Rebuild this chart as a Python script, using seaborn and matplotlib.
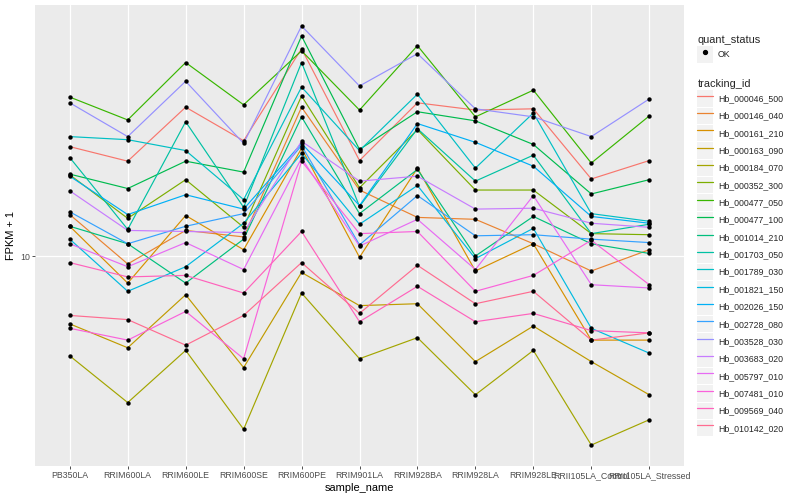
import numpy as np
import pandas as pd
import matplotlib
matplotlib.use('Agg')
import matplotlib.pyplot as plt
import seaborn as sns
from matplotlib.lines import Line2D
from matplotlib.patches import Rectangle
from matplotlib.legend_handler import HandlerTuple
from matplotlib.ticker import NullLocator

samples = ['PB350LA', 'RRIM600LA', 'RRIM600LE', 'RRIM600SE', 'RRIM600PE', 'RRIM901LA',
           'RRIM928BA', 'RRIM928LA', 'RRIM928LE', 'RRII105LA_Control', 'RRII105LA_Stressed']

tracking_ids = ['Hb_000046_500', 'Hb_000146_040', 'Hb_000161_210', 'Hb_000163_090', 'Hb_000184_070',
                'Hb_000352_300', 'Hb_000477_050', 'Hb_000477_100', 'Hb_001014_210', 'Hb_001703_050',
                'Hb_001789_030', 'Hb_001821_150', 'Hb_002026_150', 'Hb_002728_080', 'Hb_003528_030',
                'Hb_003683_020', 'Hb_005797_010', 'Hb_007481_010', 'Hb_009569_040', 'Hb_010142_020']

# FPKM + 1 per sample
hb_000046_500 = [23.4, 20.9, 31.8, 24.5, 50.1, 21.0, 32.9, 31.1, 31.4, 18.2, 21.0]
hb_000146_040 = [13.8, 9.4, 12.2, 11.6, 31.8, 16.7, 13.5, 13.3, 11.0, 8.9, 10.5]
hb_000161_210 = [12.6, 8.1, 13.7, 10.5, 23.1, 9.9, 19.8, 8.9, 11.0, 5.2, 5.2]
hb_000163_090 = [5.9, 4.9, 7.4, 4.2, 8.8, 6.8, 6.9, 4.4, 5.8, 4.4, 3.4]
hb_000184_070 = [4.6, 3.2, 4.8, 2.6, 7.5, 4.5, 5.3, 3.4, 4.8, 2.3, 2.8]
hb_000352_300 = [18.8, 13.4, 18.1, 12.5, 34.7, 17.0, 26.7, 16.7, 16.7, 11.9, 11.8]
hb_000477_050 = [34.4, 28.8, 45.0, 32.4, 49.3, 31.1, 51.3, 29.5, 36.3, 20.6, 29.7]
hb_000477_100 = [18.9, 16.9, 20.9, 19.2, 55.3, 22.9, 30.7, 28.6, 23.8, 16.2, 18.1]
hb_001014_210 = [12.6, 11.0, 8.1, 11.4, 29.5, 13.9, 19.6, 10.0, 13.6, 11.0, 10.2]
hb_001703_050 = [21.5, 12.3, 28.4, 14.6, 45.0, 14.7, 26.9, 17.9, 21.9, 11.9, 12.8]
hb_001789_030 = [25.3, 24.7, 22.7, 15.5, 37.2, 22.7, 35.2, 19.8, 30.4, 13.9, 13.1]
hb_001821_150 = [11.4, 7.6, 9.2, 12.9, 22.2, 12.8, 17.3, 9.8, 12.4, 5.7, 4.7]
hb_002026_150 = [18.6, 13.8, 16.1, 14.4, 24.0, 14.8, 28.0, 24.2, 20.1, 13.6, 12.9]
hb_002728_080 = [14.1, 11.0, 12.6, 13.9, 23.6, 10.9, 16.0, 11.7, 11.8, 11.4, 11.1]
hb_003528_030 = [32.9, 25.3, 38.9, 24.0, 59.8, 37.5, 48.2, 31.4, 29.5, 25.3, 33.9]
hb_003683_020 = [16.6, 12.2, 12.1, 12.0, 24.4, 17.9, 18.6, 14.4, 14.5, 12.9, 12.5]
hb_005797_010 = [11.0, 9.2, 11.1, 9.0, 21.4, 10.8, 13.3, 9.0, 16.0, 8.0, 7.8]
hb_007481_010 = [5.7, 5.2, 6.5, 4.5, 20.9, 11.9, 12.1, 7.6, 8.6, 11.3, 8.0]
hb_009569_040 = [9.5, 8.5, 8.6, 7.5, 12.1, 6.0, 7.9, 6.0, 6.4, 5.6, 5.5]
hb_010142_020 = [6.3, 6.1, 5.0, 6.3, 9.5, 6.4, 9.3, 6.9, 7.6, 5.2, 5.5]

series = [hb_000046_500, hb_000146_040, hb_000161_210, hb_000163_090, hb_000184_070,
          hb_000352_300, hb_000477_050, hb_000477_100, hb_001014_210, hb_001703_050,
          hb_001789_030, hb_001821_150, hb_002026_150, hb_002728_080, hb_003528_030,
          hb_003683_020, hb_005797_010, hb_007481_010, hb_009569_040, hb_010142_020]

# ggplot default hue palette for 20 levels
palette = ['#F8766D', '#EA8331', '#D89000', '#C09B00', '#A3A500', '#7CAE00', '#39B600',
           '#00BB4E', '#00BF7D', '#00C1A3', '#00BFC4', '#00BAE0', '#00B0F6', '#35A2FF',
           '#9590FF', '#C77CFF', '#E76BF3', '#FA62DB', '#FF62BC', '#FF6C91']

rows = []
for tid, vals in zip(tracking_ids, series):
    for s, v in zip(samples, vals):
        rows.append((tid, s, v, 'OK'))
df = pd.DataFrame(rows, columns=['tracking_id', 'sample_name', 'fpkm', 'quant_status'])

sns.set_theme(style='darkgrid', rc={'axes.facecolor': '#EBEBEB', 'grid.color': 'white',
                                    'grid.linewidth': 0.9})
plt.rcParams['font.family'] = ['Liberation Sans', 'DejaVu Sans']

fig = plt.figure(figsize=(8, 5), dpi=100)
ax = fig.add_axes([35 / 800, 34 / 500, 649 / 800, 461 / 500])

sns.lineplot(data=df, x='sample_name', y='fpkm', hue='tracking_id', hue_order=tracking_ids,
             palette=palette, sort=False, estimator=None, legend=False, linewidth=0.85, ax=ax)
sns.scatterplot(data=df, x='sample_name', y='fpkm', color='black', s=10, linewidth=0,
                legend=False, ax=ax, zorder=3)

ax.set_yscale('log')
lo, hi = np.log10(df['fpkm'].min()), np.log10(df['fpkm'].max())
pad = 0.05 * (hi - lo)
ax.set_ylim(10 ** (lo - pad), 10 ** (hi + pad))
ax.set_xlim(-0.6, len(samples) - 0.4)
ax.set_yticks([10])
ax.set_yticklabels(['10'])
ax.yaxis.set_minor_locator(NullLocator())
ax.grid(False, which='minor')

for sp in ax.spines.values():
    sp.set_visible(False)
ax.tick_params(bottom=True, left=True, length=2, width=0.6, color='#333333',
               labelsize=6.3, labelcolor='#4D4D4D', pad=1.5)
ax.set_xlabel('sample_name', fontsize=7.9, color='black', labelpad=2)
ax.set_ylabel('FPKM + 1', fontsize=7.9, color='black', labelpad=3)

# legends (grey key boxes like ggplot)
fs = 6.34
key_bg = '#F2F2F2'
common = dict(loc='upper left', frameon=False, fontsize=fs, title_fontsize=7.9,
              handlelength=1.8, handleheight=2.5, borderpad=0, labelspacing=0.1,
              handletextpad=0.55, alignment='left',
              handler_map={tuple: HandlerTuple(ndivide=1, pad=0)})
h1 = [(Rectangle((0, 0), 1, 1, facecolor=key_bg, edgecolor='none'),
       Line2D([], [], linestyle='none', marker='o', markersize=2.8, color='black'))]
leg1 = fig.legend(h1, ['OK'], title='quant_status',
                  bbox_to_anchor=(693 / 800, 1 - 31 / 500), **common)
h2 = [(Rectangle((0, 0), 1, 1, facecolor=key_bg, edgecolor='none'),
       Line2D([], [], color=c, linewidth=0.9)) for c in palette]
leg2 = fig.legend(h2, tracking_ids, title='tracking_id',
                  bbox_to_anchor=(693 / 800, 1 - 75 / 500), **common)

fig.savefig('out.png', dpi=100, facecolor='white')
